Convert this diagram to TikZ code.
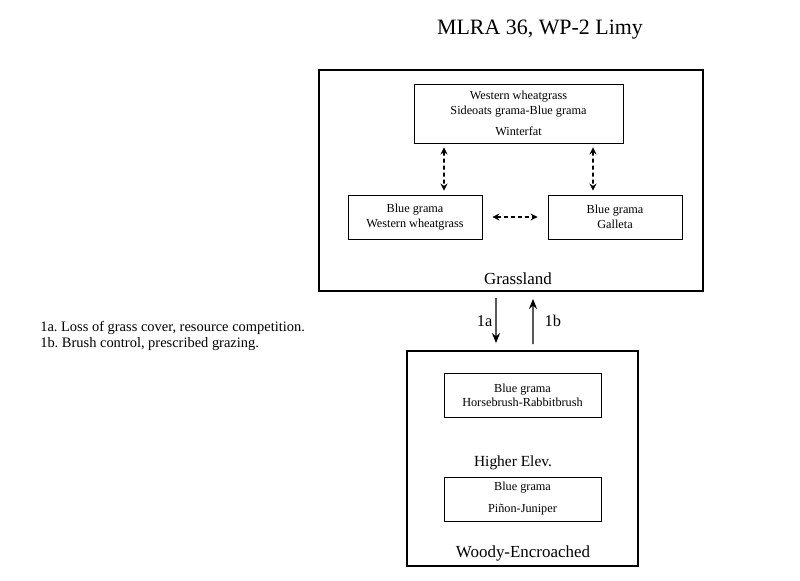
\documentclass[tikz,border=0pt]{standalone}
\usepackage{fontspec}
\setmainfont{Liberation Serif}
\usetikzlibrary{arrows,arrows.meta,shapes,positioning}

\begin{document}
\frenchspacing
\begin{tikzpicture}[x=1bp,y=-1bp,>={Stealth[length=10bp,width=8bp]},auto,semithick,
        outerbox/.style={draw,line width=1.8bp,inner sep=0pt},
        stbox/.style={draw,line width=0.8bp,align=center,inner sep=0pt,font=\fontsize{12.3}{15}\selectfont},
        dasharrow/.style={{Stealth[length=7bp,width=7bp]}-{Stealth[length=7bp,width=7bp]},dash pattern=on 4bp off 3bp,line width=1.6bp,shorten >=4bp,shorten <=4bp},
        trans/.style={->,line width=1.3bp,shorten >=7bp,shorten <=6bp},
        boxlabel/.style={font=\fontsize{17}{20}\selectfont}]
        \useasboundingbox (0,0) rectangle (800,581);
        \node (title) at (540,30) {\fontsize{22}{26}\selectfont MLRA 36, WP-2 Limy};
        \node[outerbox,minimum width=384bp,minimum height=221bp] (grass) at (511,180.5) {};
        \node[outerbox,minimum width=231bp,minimum height=215bp] (woody) at (522.5,458.5) {};
        \node[stbox,minimum width=209bp,minimum height=59bp] (A) at (518.5,113.5) {Western wheatgrass\\Sideoats grama-Blue grama\\[6pt]Winterfat};
        \node[stbox,minimum width=134bp,minimum height=44bp] (B) at (415,217) {Blue grama\\Western wheatgrass};
        \node[stbox,minimum width=134bp,minimum height=44bp] (C) at (615,217) {Blue grama\\Galleta};
        \node[boxlabel] (glabel) at (518,279) {Grassland};
        \node[stbox,minimum width=157bp,minimum height=44bp,font=\fontsize{12.3}{14}\selectfont] (D) at (522.5,395) {Blue grama\\Horsebrush-Rabbitbrush};
        \node[font=\fontsize{15.5}{18}\selectfont] (elev) at (513,463) {Higher Elev.};
        \node[stbox,minimum width=157bp,minimum height=44bp] (E) at (522.5,499) {Blue grama\\[7pt]Pi\~non-Juniper};
        \node[boxlabel] (wlabel) at (523,553) {Woody-Encroached};
        \node[align=left,anchor=west,inner sep=0pt,font=\fontsize{14.5}{15.5}\selectfont] (legend) at (40,336)
            {1a. Loss of grass cover, resource competition.\\1b. Brush control, prescribed grazing.};

        \path[dasharrow]
        ([xshift=-74.5bp]A.south) edge ([xshift=29bp]B.north)
        ([xshift=74.5bp]A.south)  edge ([xshift=-22bp]C.north)
        (B) edge[shorten >=10bp,shorten <=10bp] (C);
        \draw[trans] ([xshift=-15bp]grass.south) -- node[left=2bp,inner sep=1bp,font=\fontsize{16.5}{19}\selectfont] {1a} ([xshift=-26.5bp]woody.north);
        \draw[trans] ([xshift=10.5bp]woody.north) -- node[right=10bp,inner sep=1bp,font=\fontsize{16.5}{19}\selectfont] {1b} ([xshift=22bp]grass.south);
    \end{tikzpicture}
\end{document}
